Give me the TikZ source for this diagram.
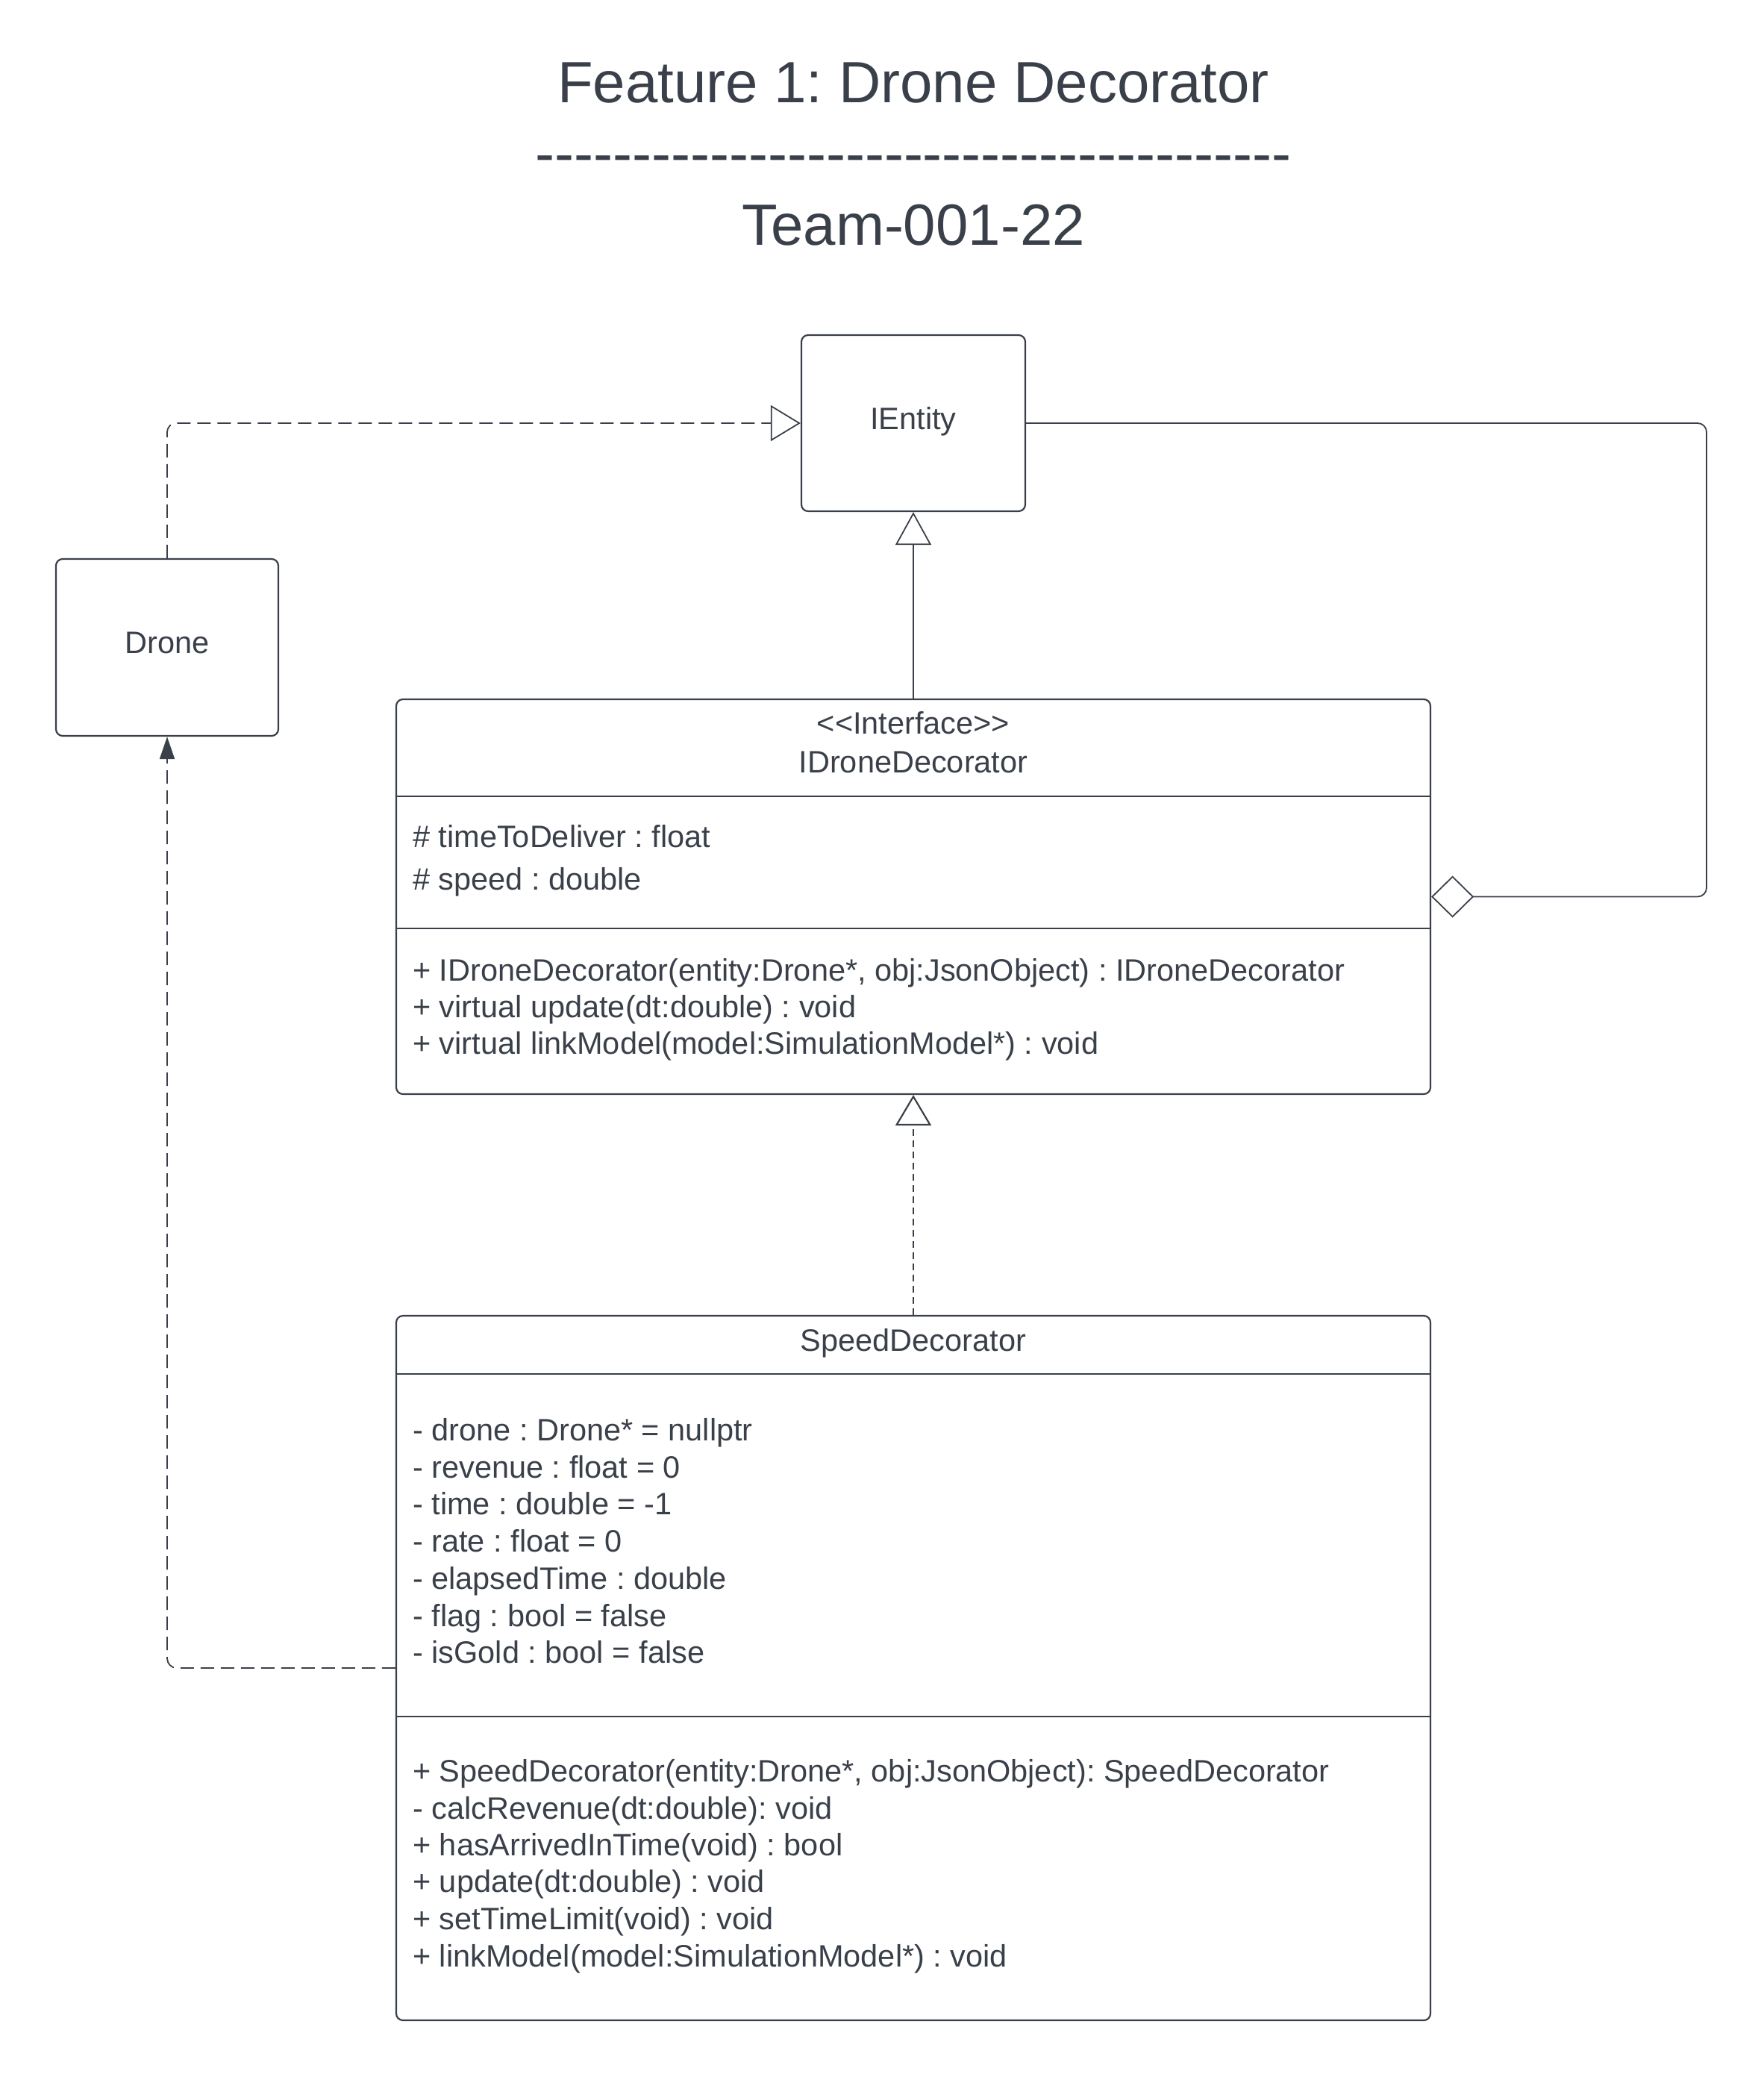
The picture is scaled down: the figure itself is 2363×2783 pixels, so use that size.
\documentclass[tikz,border=0pt]{standalone}
\usepackage{fontspec}
\setmainfont{Liberation Sans}
\usetikzlibrary{arrows.meta}
\definecolor{ink}{RGB}{58,64,74}
\frenchspacing
% a row of plain hyphens (kerns keep them from merging into dashes)
\newcommand\hyphenrow{\foreach \k in {1,...,39}{-\kern0pt}}

\begin{document}
\begin{tikzpicture}[x=1pt,y=-1pt,
  every node/.style={text=ink, inner sep=0pt},
  body/.style={font=\fontsize{41.5}{50}\selectfont},
  heading/.style={font=\fontsize{78}{94}\selectfont, anchor=base},
  umlbox/.style={draw=ink, line width=2.2pt, rounded corners=9pt},
  member/.style={body, anchor=base west},
  caption/.style={body, anchor=base},
  divider/.style={draw=ink, line width=2.2pt},
  rel/.style={draw=ink, line width=1.8pt},
  longdash/.style={dash pattern=on 18pt off 9pt},
  shortdash/.style={dash pattern=on 9pt off 6pt, line width=2.2pt},
]
\useasboundingbox (0,0) rectangle (2363,2783);

% ---- title block ----
\node[heading] (title) at (1224,138) {Feature 1: Drone Decorator};
\node[heading] (rule) at (1224,233) {\hyphenrow};
\node[heading] (team) at (1224,328) {Team-001-22};

% ---- simple classes ----
\node[umlbox, minimum width=300pt, minimum height=236pt] (ientity) at (1224,567) {};
\node[caption] (ientityname) at (1224,575) {IEntity};

\node[umlbox, minimum width=298pt, minimum height=237pt] (drone) at (224,867.5) {};
\node[caption] (dronename) at (224,875) {Drone};

% ---- IDroneDecorator ----
\node[umlbox, minimum width=1386pt, minimum height=529pt] (idd) at (1224,1201.5) {};
\draw[divider] (idd.west |- 0,1067) -- (idd.east |- 0,1067);
\draw[divider] (idd.west |- 0,1244) -- (idd.east |- 0,1244);
\node[caption] (iddstereo) at (1224,983) {<\kern0pt<Interface>\kern0pt>};
\node[caption] (iddname) at (1224,1035) {IDroneDecorator};
\node[member] (idda1) at (553,1135) {\# timeToDeliver : float};
\node[member] (idda2) at (553,1192) {\# speed : double};
\node[member] (iddm1) at (553,1314) {+ IDroneDecorator(entity:Drone*, obj:JsonObject) : IDroneDecorator};
\node[member] (iddm2) at (553,1363) {+ virtual update(dt:double) : void};
\node[member] (iddm3) at (553,1412) {+ virtual linkModel(model:SimulationModel*) : void};

% ---- SpeedDecorator ----
\node[umlbox, minimum width=1386pt, minimum height=944pt] (speed) at (1224,2235) {};
\draw[divider] (speed.west |- 0,1841) -- (speed.east |- 0,1841);
\draw[divider] (speed.west |- 0,2300) -- (speed.east |- 0,2300);
\node[caption] (speedname) at (1224,1810) {SpeedDecorator};
\node[member] (sa1) at (553,1930) {- drone : Drone* = nullptr};
\node[member] (sa2) at (553,1980) {- revenue : float = 0};
\node[member] (sa3) at (553,2029) {- time : double = -1};
\node[member] (sa4) at (553,2079) {- rate : float = 0};
\node[member] (sa5) at (553,2129) {- elapsedTime : double};
\node[member] (sa6) at (553,2179) {- flag : bool = false};
\node[member] (sa7) at (553,2228) {- isGold : bool = false};
\node[member] (sm1) at (553,2387) {+ SpeedDecorator(entity:Drone*, obj:JsonObject): SpeedDecorator};
\node[member] (sm2) at (553,2437) {- calcRevenue(dt:double): void};
\node[member] (sm3) at (553,2486) {+ hasArrivedInTime(void) : bool};
\node[member] (sm4) at (553,2535) {+ update(dt:double) : void};
\node[member] (sm5) at (553,2585) {+ setTimeLimit(void) : void};
\node[member] (sm6) at (553,2635) {+ linkModel(model:SimulationModel*) : void};

% ---- relations ----
% Drone realizes IEntity
\draw[rel, longdash, rounded corners=12pt, -{Triangle[open, length=40pt, width=48pt]}]
  (drone.north) |- (ientity.west);
% IDroneDecorator generalizes IEntity
\draw[rel, -{Triangle[open, length=44pt, width=48pt]}]
  (idd.north) -- (ientity.south);
% IDroneDecorator aggregates an IEntity
\coordinate (aggturn) at (2287,567);
\draw[rel, rounded corners=12pt, -{Diamond[open, length=57pt, width=56pt]}]
  (ientity.east) -- (aggturn) |- (idd.east);
% SpeedDecorator realizes IDroneDecorator
\draw[rel, shortdash, -{Triangle[open, length=41pt, width=48pt]}]
  (speed.north) -- (idd.south);
% SpeedDecorator depends on Drone
\draw[rel, longdash, rounded corners=13pt, -{Triangle[length=30pt, width=20pt]}]
  (speed.west) -| (drone.south);
\end{tikzpicture}
\end{document}
